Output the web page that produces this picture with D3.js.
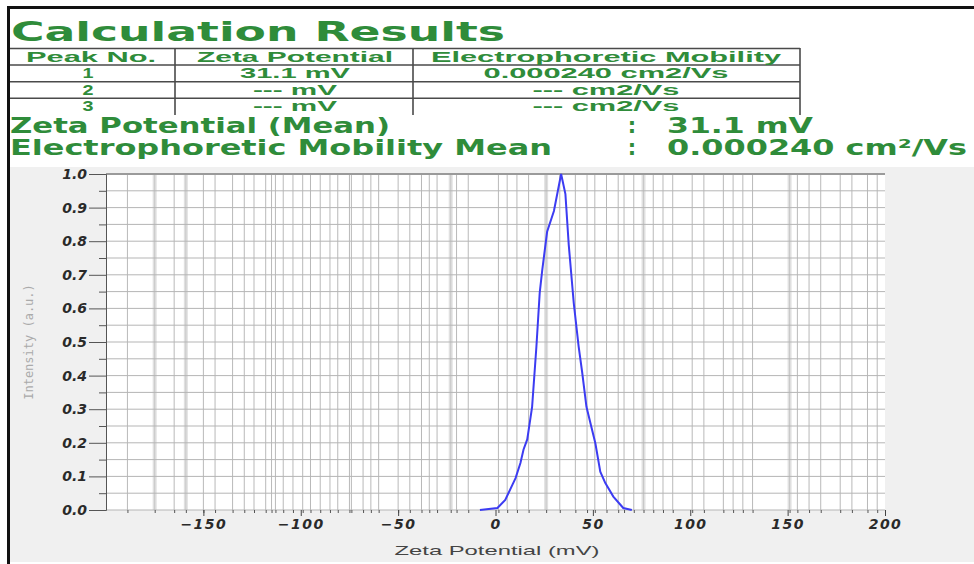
<!DOCTYPE html>
<html>
<head>
<meta charset="utf-8">
<script src="https://cdn.jsdelivr.net/npm/d3@7/dist/d3.min.js"></script>
<style>
    body { margin: 0; background: #fff; }
    svg { display: block; }
</style>
</head>
<body>
<svg id="chart" width="974" height="564"></svg>
<script>
// table contents
var tableHeaders = ["Peak No.", "Zeta Potential", "Electrophoretic Mobility"];
var peakNo = ["1", "2", "3"];
var peakZeta = ["31.1 mV", "--- mV", "--- mV"];
var peakMobility = ["0.000240 cm2/Vs", "--- cm2/Vs", "--- cm2/Vs"];
var meanLabels = ["Zeta Potential (Mean)", "Electrophoretic Mobility Mean"];
var meanValues = ["31.1 mV", "0.000240 cm\u00b2/Vs"];

// distribution curve
var zetaMv = [-8, 1, 5, 8.6, 10.3, 12.8, 14.4, 16.3, 18.8, 21, 22.7, 24, 26.5, 30, 33.7,
    35.9, 37.6, 40.2, 42.7, 44.5, 46.7, 51.3, 53.8, 56.4, 60.5, 65.6, 70];
var intensity = [0, 0.006, 0.03, 0.074, 0.095, 0.14, 0.18, 0.21, 0.307, 0.486, 0.646, 0.714, 0.828, 0.89, 1.0,
    0.94, 0.79, 0.615, 0.486, 0.41, 0.307, 0.198, 0.114, 0.08, 0.04, 0.006, 0];

// axes
var xTicks = [-150, -100, -50, 0, 50, 100, 150, 200];
var yTicks = [0, 0.1, 0.2, 0.3, 0.4, 0.5, 0.6, 0.7, 0.8, 0.9, 1.0];
var yMinor = [0.05, 0.15, 0.25, 0.35, 0.45, 0.55, 0.65, 0.75, 0.85, 0.95];
// the odd vertical grid of the instrument software
var gridX = [-189, -175, -165, -159, -150, -144, -135, -129, -124, -118, -115, -113, -109, -104,
    -99, -95, -90, -85, -81, -75, -74, -68, -64, -60, -50, -44, -38, -34, -30, -23, -20, -14,
    1.5, 6, 11, 17, 26, 33, 41, 47, 51, 57, 63, 66, 71, 76, 81, 86, 91,
    101, 107, 117, 122, 127, 132, 151, 155, 161, 167, 177, 183, 191, 196];
var gridXHeavy = [-175, -159, -23, 26, 76, 151];

var svg = d3.select("#chart");
var green = "#2f8c3a";

// outer frame and grey plot panel
svg.append("rect").attr("x", 10).attr("y", 167).attr("width", 964).attr("height", 395).attr("fill", "#f0f0f0");
svg.append("rect").attr("x", 7).attr("y", 6).attr("width", 967).attr("height", 3).attr("fill", "#111");
svg.append("rect").attr("x", 7).attr("y", 6).attr("width", 3).attr("height", 558).attr("fill", "#111");

// ---- header ----
svg.append("text")
    .attr("x", 11).attr("y", 41)
    .attr("textLength", 494).attr("lengthAdjust", "spacingAndGlyphs")
    .style("font", "bold 26px 'DejaVu Sans', sans-serif")
    .attr("fill", green)
    .text("Calculation Results");

var table = svg.append("g").attr("stroke", "#4a4a4a").attr("stroke-width", 1.6);
[48.5, 65, 81.7, 98.3].forEach(function (y) {
    table.append("line").attr("x1", 10).attr("x2", 800).attr("y1", y).attr("y2", y);
});
[175, 413, 800].forEach(function (x) {
    table.append("line").attr("x1", x).attr("x2", x).attr("y1", 48).attr("y2", 115);
});

var colCenter = [91, 295, 606];
var headerWidth = [130, 196, 350];
var cellFont = "bold 14px 'Liberation Sans', Arial, sans-serif";

function cell(txt, x, y, w) {
    var t = svg.append("text")
        .attr("x", x).attr("y", y)
        .attr("text-anchor", "middle")
        .style("font", cellFont)
        .attr("fill", green)
        .text(txt);
    if (w) t.attr("textLength", w).attr("lengthAdjust", "spacingAndGlyphs");
}

tableHeaders.forEach(function (h, i) { cell(h, colCenter[i], 62, headerWidth[i]); });

var rowBase = [78, 94.5, 111];
var zetaW = [110, 84, 84];
var mobW = [245, 147, 147];
peakNo.forEach(function (p, i) {
    cell(p, colCenter[0] - 3, rowBase[i], 11);
    cell(peakZeta[i], colCenter[1], rowBase[i], zetaW[i]);
    cell(peakMobility[i], colCenter[2], rowBase[i], mobW[i]);
});

var meanBase = [133, 155];
var meanLabelW = [380, 542];
var meanValueW = [146, 300];
meanLabels.forEach(function (l, i) {
    var f = "bold 21px 'DejaVu Sans', sans-serif";
    svg.append("text").attr("x", 10).attr("y", meanBase[i])
        .attr("textLength", meanLabelW[i]).attr("lengthAdjust", "spacingAndGlyphs")
        .style("font", f).attr("fill", green).text(l);
    svg.append("text").attr("x", 632).attr("y", meanBase[i])
        .attr("text-anchor", "middle")
        .style("font", f).attr("fill", green).text(":");
    svg.append("text").attr("x", 667).attr("y", meanBase[i])
        .attr("textLength", meanValueW[i]).attr("lengthAdjust", "spacingAndGlyphs")
        .style("font", f).attr("fill", green).text(meanValues[i]);
});

// ---- plot ----
var margin = { left: 106, right: 885, top: 174, bottom: 510 };
var x = d3.scaleLinear().domain([-200, 200]).range([margin.left, margin.right]);
var y = d3.scaleLinear().domain([0, 1]).range([margin.bottom, margin.top]);

svg.append("rect")
    .attr("x", margin.left).attr("y", margin.top)
    .attr("width", margin.right - margin.left).attr("height", margin.bottom - margin.top)
    .attr("fill", "#fff");

var grid = svg.append("g");
grid.selectAll("line.heavy")
    .data(gridXHeavy)
    .enter().append("line").attr("class", "heavy")
    .attr("x1", function (d) { return x(d); }).attr("x2", function (d) { return x(d); })
    .attr("y1", margin.top).attr("y2", margin.bottom)
    .attr("stroke", "#e0e0e0").attr("stroke-width", 4);
grid.selectAll("line.vx")
    .data(gridX)
    .enter().append("line").attr("class", "vx")
    .attr("x1", function (d) { return x(d); }).attr("x2", function (d) { return x(d); })
    .attr("y1", margin.top).attr("y2", margin.bottom)
    .attr("stroke", function (d) { return gridXHeavy.indexOf(d) >= 0 ? "#c8c8c8" : "#b9b9b9"; })
    .attr("stroke-width", 1);
grid.selectAll("line.hy")
    .data(yTicks.concat(yMinor))
    .enter().append("line").attr("class", "hy")
    .attr("x1", margin.left).attr("x2", margin.right)
    .attr("y1", function (d) { return y(d); }).attr("y2", function (d) { return y(d); })
    .attr("stroke", "#b5b5b5").attr("stroke-width", 1);

// top border of plot
svg.append("line")
    .attr("x1", margin.left).attr("x2", margin.right)
    .attr("y1", margin.top).attr("y2", margin.top)
    .attr("stroke", "#9a9a9a").attr("stroke-width", 2);

// y axis
var tickFont = "bold italic 14px 'DejaVu Sans', sans-serif";
var yAxis = svg.append("g")
    .attr("transform", "translate(" + margin.left + ",0)")
    .call(d3.axisLeft(y).tickValues(yTicks).tickSize(17).tickPadding(2).tickFormat(d3.format(".1f")));
yAxis.select(".domain").attr("stroke", "#555");
yAxis.selectAll(".tick line").attr("stroke", "#555");
yAxis.selectAll("text").style("font", tickFont).attr("fill", "#2a2a2a");

var yAxisMinor = svg.append("g")
    .attr("transform", "translate(" + margin.left + ",0)")
    .call(d3.axisLeft(y).tickValues(yMinor).tickSize(7).tickFormat(""));
yAxisMinor.select(".domain").remove();
yAxisMinor.selectAll(".tick line").attr("stroke", "#555");

// x axis: small marks at the grid lines, longer ones at labels
var xAxisMinor = svg.append("g")
    .attr("transform", "translate(0," + margin.bottom + ")")
    .call(d3.axisBottom(x).tickValues(gridX).tickSize(3).tickFormat(""));
xAxisMinor.select(".domain").remove();
xAxisMinor.selectAll(".tick line").attr("stroke", "#555");

var xAxis = svg.append("g")
    .attr("transform", "translate(0," + margin.bottom + ")")
    .call(d3.axisBottom(x).tickValues(xTicks).tickSize(6).tickPadding(3).tickFormat(d3.format("d")));
xAxis.select(".domain").remove();
xAxis.selectAll(".tick line").attr("stroke", "#444");
xAxis.selectAll("text").style("font", tickFont).style("letter-spacing", "1.5px").attr("fill", "#2a2a2a");

// titles
svg.append("text")
    .attr("transform", "translate(33," + ((margin.top + margin.bottom) / 2) + ") rotate(-90)")
    .attr("text-anchor", "middle")
    .style("font", "12px 'DejaVu Sans Mono', monospace")
    .attr("fill", "#aaa")
    .text("Intensity (a.u.)");

svg.append("text")
    .attr("x", 497).attr("y", 555)
    .attr("text-anchor", "middle")
    .attr("textLength", 205).attr("lengthAdjust", "spacingAndGlyphs")
    .style("font", "13px 'Liberation Sans', Arial, sans-serif")
    .attr("fill", "#444")
    .text("Zeta Potential (mV)");

// distribution curve
var points = zetaMv.map(function (d, i) { return [d, intensity[i]]; });
var line = d3.line()
    .x(function (d) { return x(d[0]); })
    .y(function (d) { return y(d[1]); });
svg.append("path")
    .datum(points)
    .attr("d", line)
    .attr("fill", "none")
    .attr("stroke", "#3c3cf2")
    .attr("stroke-width", 2);
</script>
</body>
</html>
